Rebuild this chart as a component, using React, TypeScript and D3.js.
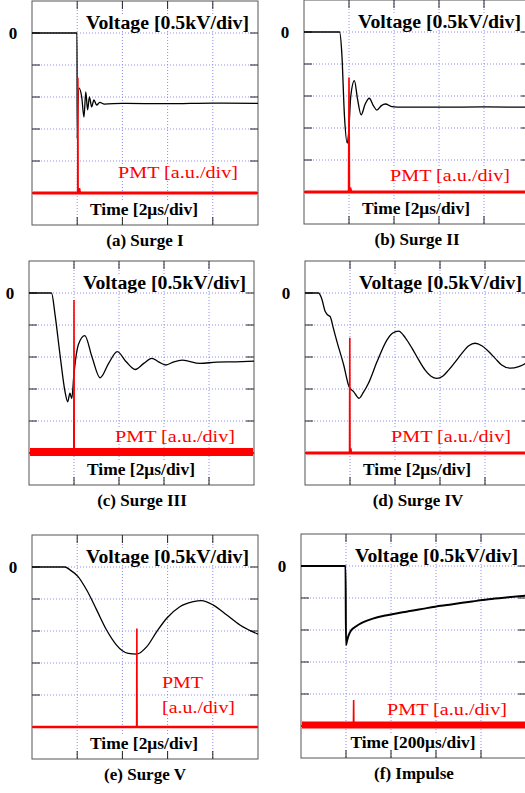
import React, { useLayoutEffect, useRef, useState } from 'react';
import * as d3 from 'd3';

type Pt = [number, number];

// time in divisions, voltage in divisions (0.5 kV/div), PMT in divisions
const surge1Voltage: Pt[] = [[0,0],[0.995,0],[1.0,-3.3],[1.01,-2.6],[1.04,-1.72],[1.1,-2.0],[1.15,-2.63],[1.19,-1.84],[1.23,-2.4],[1.27,-2.0],[1.32,-2.31],[1.37,-2.09],[1.43,-2.25],[1.5,-2.17],[1.6,-2.22],[2,-2.2],[3,-2.21],[4,-2.19],[5,-2.2]];
const surge1Pmt: Pt[] = [[0,-5],[1.01,-5],[1.015,-1.4],[1.02,-5],[1.05,-4.85],[1.07,-5],[5,-5]];

const surge2Voltage: Pt[] = [[0,0],[0.79,0],[0.84,-0.66],[0.9,-2.65],[0.96,-3.47],[0.99,-3.2],[1.04,-2.0],[1.12,-1.52],[1.19,-2.1],[1.27,-2.59],[1.36,-2.25],[1.45,-2.07],[1.54,-2.3],[1.62,-2.44],[1.72,-2.3],[1.81,-2.25],[1.95,-2.33],[2.2,-2.35],[3,-2.35],[4,-2.34],[5,-2.35]];
const surge2Pmt: Pt[] = [[0,-5],[0.99,-5],[1.0,-1.42],[1.01,-5],[1.04,-4.9],[1.06,-5],[5,-5]];

const surge3Voltage: Pt[] = [[0,0],[0.5,0],[0.58,-0.69],[0.69,-1.94],[0.8,-3.08],[0.86,-3.4],[0.91,-3.13],[0.95,-3.3],[1.0,-2.51],[1.1,-1.6],[1.24,-1.33],[1.4,-2.0],[1.58,-2.65],[1.77,-2.2],[1.96,-1.83],[2.16,-2.15],[2.36,-2.39],[2.55,-2.2],[2.73,-2.04],[2.88,-2.15],[3.04,-2.25],[3.22,-2.15],[3.41,-2.1],[3.8,-2.2],[4.17,-2.16],[4.6,-2.15],[5,-2.13]];
const surge3Pmt: Pt[] = [[0,-5],[0.995,-5],[1.0,-0.22],[1.005,-5],[5,-5]];

const surge4Voltage: Pt[] = [[0,0],[0.3,0],[0.37,-0.17],[0.45,-0.58],[0.5,-0.68],[0.56,-0.74],[0.63,-1.1],[0.71,-1.52],[0.86,-2.25],[0.98,-2.93],[1.08,-3.08],[1.2,-3.29],[1.3,-3.1],[1.41,-2.82],[1.6,-2.15],[1.82,-1.47],[1.95,-1.25],[2.08,-1.19],[2.23,-1.4],[2.38,-1.73],[2.53,-2.1],[2.67,-2.41],[2.8,-2.6],[2.93,-2.67],[3.06,-2.6],[3.19,-2.41],[3.34,-2.15],[3.49,-1.88],[3.64,-1.65],[3.78,-1.57],[3.93,-1.65],[4.08,-1.83],[4.23,-2.05],[4.37,-2.25],[4.56,-2.35],[4.75,-2.3],[4.9,-2.2],[5,-2.1]];
const surge4Pmt: Pt[] = [[0,-5],[0.99,-5],[0.995,-1.4],[1.0,-5],[1.02,-4.85],[1.03,-5],[5,-5]];

const surge5Voltage: Pt[] = [[0,0],[0.73,0],[0.84,-0.09],[1.02,-0.3],[1.21,-0.72],[1.43,-1.34],[1.65,-1.97],[1.87,-2.44],[2.0,-2.62],[2.13,-2.7],[2.32,-2.72],[2.54,-2.49],[2.76,-2.02],[2.98,-1.6],[3.27,-1.24],[3.57,-1.08],[3.75,-1.05],[4.01,-1.19],[4.31,-1.5],[4.6,-1.81],[5,-2.1]];
const surge5Pmt: Pt[] = [[0,-5],[2.315,-5],[2.32,-1.92],[2.325,-5],[5,-5]];

const impulseVoltage: Pt[] = [[0,0],[0.99,0],[1.0,-2.47],[1.02,-2.35],[1.06,-2.16],[1.12,-2.0],[1.21,-1.9],[1.35,-1.78],[1.5,-1.69],[1.7,-1.6],[1.94,-1.53],[2.2,-1.46],[2.46,-1.4],[2.7,-1.34],[2.98,-1.27],[3.3,-1.21],[3.58,-1.15],[3.9,-1.09],[4.17,-1.04],[4.6,-0.98],[5,-0.93]];
const impulsePmt: Pt[] = [[0,-5],[1.165,-5],[1.17,-4.19],[1.175,-5],[5,-5]];

const voltageSeries = [surge1Voltage, surge2Voltage, surge3Voltage, surge4Voltage, surge5Voltage, impulseVoltage];
const pmtSeries = [surge1Pmt, surge2Pmt, surge3Pmt, surge4Pmt, surge5Pmt, impulsePmt];
const pmtBaseline = [-5, -5, -4.97, -5, -5, -4.97];

const captions = ['(a) Surge I', '(b) Surge II', '(c) Surge III', '(d) Surge IV', '(e) Surge V', '(f) Impulse'];
const timeLabels = ['Time [2μs/div]', 'Time [2μs/div]', 'Time [2μs/div]', 'Time [2μs/div]', 'Time [2μs/div]', 'Time [200μs/div]'];
const voltageLabel = 'Voltage [0.5kV/div]';
const pmtLabel = 'PMT [a.u./div]';
const pmtLabelSplit = ['PMT', '[a.u./div]'];
const zeroLabel = '0';
const xDivs = [0, 1, 2, 3, 4, 5];
const yDivs = [1, 0, -1, -2, -3, -4, -5, -6];

// layout (pixels)
const layout = [
  { x0: 32, y0: 33, dx: 45.2, dy: 32, band: 3 },
  { x0: 304, y0: 32, dx: 45, dy: 32, band: 3 },
  { x0: 29, y0: 293, dx: 45, dy: 32, band: 8 },
  { x0: 305, y0: 293, dx: 45, dy: 32, band: 3 },
  { x0: 32, y0: 567, dx: 45.2, dy: 32, band: 2.5 },
  { x0: 301, y0: 566, dx: 45, dy: 32, band: 7 },
];

const FONT = "'Liberation Serif', 'Times New Roman', serif";

function BoxedText(props: any) {
  const ref = useRef<SVGTextElement>(null);
  const [bb, setBb] = useState<any>(null);
  useLayoutEffect(() => {
    if (ref.current) {
      const b = ref.current.getBBox();
      setBb({ x: b.x, y: b.y, w: b.width, h: b.height });
    }
  }, []);
  const { children, box, ...rest } = props;
  return (
    <g>
      {bb && box !== false && (
        <rect x={bb.x - 2} y={bb.y + 1} width={bb.w + 4} height={bb.h - 3} fill="white" />
      )}
      <text ref={ref} fontFamily={FONT} {...rest}>{children}</text>
    </g>
  );
}

function Panel({ idx }: { idx: number }) {
  const L = layout[idx];
  const x = d3.scaleLinear().domain([0, 5]).range([L.x0, L.x0 + 5 * L.dx]);
  const y = d3.scaleLinear().domain([0, -1]).range([L.y0, L.y0 + L.dy]);
  const line = d3.line<Pt>().x(d => x(d[0])).y(d => y(d[1]));
  const smooth = d3.line<Pt>().x(d => x(d[0])).y(d => y(d[1])).curve(d3.curveMonotoneX);
  const xl = x(0), xr = x(5), yt = y(1), yb = y(-6);
  const grid = '#8c8cf0';
  const tick = 8;
  return (
    <g>
      <rect x={xl} y={yt} width={xr - xl} height={yb - yt} fill="white" stroke="#555" strokeWidth={1} />
      {yDivs.slice(1, 7).map(v => (
        <line key={'h' + v} x1={xl} x2={xr} y1={y(v)} y2={y(v)} stroke={grid} strokeWidth={1} strokeDasharray="1,2" />
      ))}
      {xDivs.slice(1, 5).map(t => (
        <line key={'v' + t} x1={x(t)} x2={x(t)} y1={yt} y2={yb} stroke={grid} strokeWidth={1} strokeDasharray="1,2" />
      ))}
      {yDivs.slice(1, 7).map(v => (
        <g key={'th' + v}>
          <line x1={xl} x2={xl + tick} y1={y(v)} y2={y(v)} stroke="#222" strokeWidth={1} />
          <line x1={xr - tick} x2={xr} y1={y(v)} y2={y(v)} stroke="#222" strokeWidth={1} />
        </g>
      ))}
      {xDivs.slice(1, 5).map(t => (
        <g key={'tv' + t}>
          <line x1={x(t)} x2={x(t)} y1={yt} y2={yt + tick} stroke="#222" strokeWidth={1} />
          <line x1={x(t)} x2={x(t)} y1={yb - tick} y2={yb} stroke="#222" strokeWidth={1} />
        </g>
      ))}
      <BoxedText x={xl + 217} y={L.y0 - 4} textAnchor="end" fontSize={18} fontWeight="bold" textLength={163} lengthAdjust="spacingAndGlyphs" fill="#000">{voltageLabel}</BoxedText>
      {idx !== 4 ? (
        <BoxedText x={xl + 206} y={L.y0 + (idx === 0 ? 145 : 149)} textAnchor="end" fontSize={17} textLength={120} lengthAdjust="spacingAndGlyphs" fill="#f00">{pmtLabel}</BoxedText>
      ) : (
        <g>
          <BoxedText x={xl + 130} y={L.y0 + 121} fontSize={17} textLength={41} lengthAdjust="spacingAndGlyphs" fill="#f00">{pmtLabelSplit[0]}</BoxedText>
          <BoxedText x={xl + 130} y={L.y0 + 146} fontSize={17} textLength={73} lengthAdjust="spacingAndGlyphs" fill="#f00">{pmtLabelSplit[1]}</BoxedText>
        </g>
      )}
      <BoxedText x={xl + 112} y={L.y0 + 182} textAnchor="middle" fontSize={17} fontWeight="bold" textLength={idx === 5 ? 125 : 108} lengthAdjust="spacingAndGlyphs" fill="#000">{timeLabels[idx]}</BoxedText>
      <path d={smooth(voltageSeries[idx]) || ''} fill="none" stroke="#000" strokeWidth={idx === 5 ? 2 : 1.3} strokeLinejoin="round" />
      <line x1={xl + 1} x2={xr - 1} y1={y(pmtBaseline[idx])} y2={y(pmtBaseline[idx])} stroke="#f00" strokeWidth={L.band} />
      <path d={line(pmtSeries[idx]) || ''} fill="none" stroke="#f00" strokeWidth={1.6} />
      <text x={xl - 19} y={L.y0 + 6} textAnchor="middle" fontFamily={FONT} fontSize={17} fontWeight="bold">{zeroLabel}</text>
      <text x={xl + 113} y={yb + 21} textAnchor="middle" fontFamily={FONT} fontSize={17} fontWeight="bold">{captions[idx]}</text>
    </g>
  );
}

export default function App() {
  return (
    <svg width={525} height={793} style={{ position: 'absolute', left: 0, top: 0, background: 'white' }}>
      <rect x={0} y={0} width={525} height={793} fill="white" />
      {layout.map((_, i) => <Panel key={i} idx={i} />)}
    </svg>
  );
}
